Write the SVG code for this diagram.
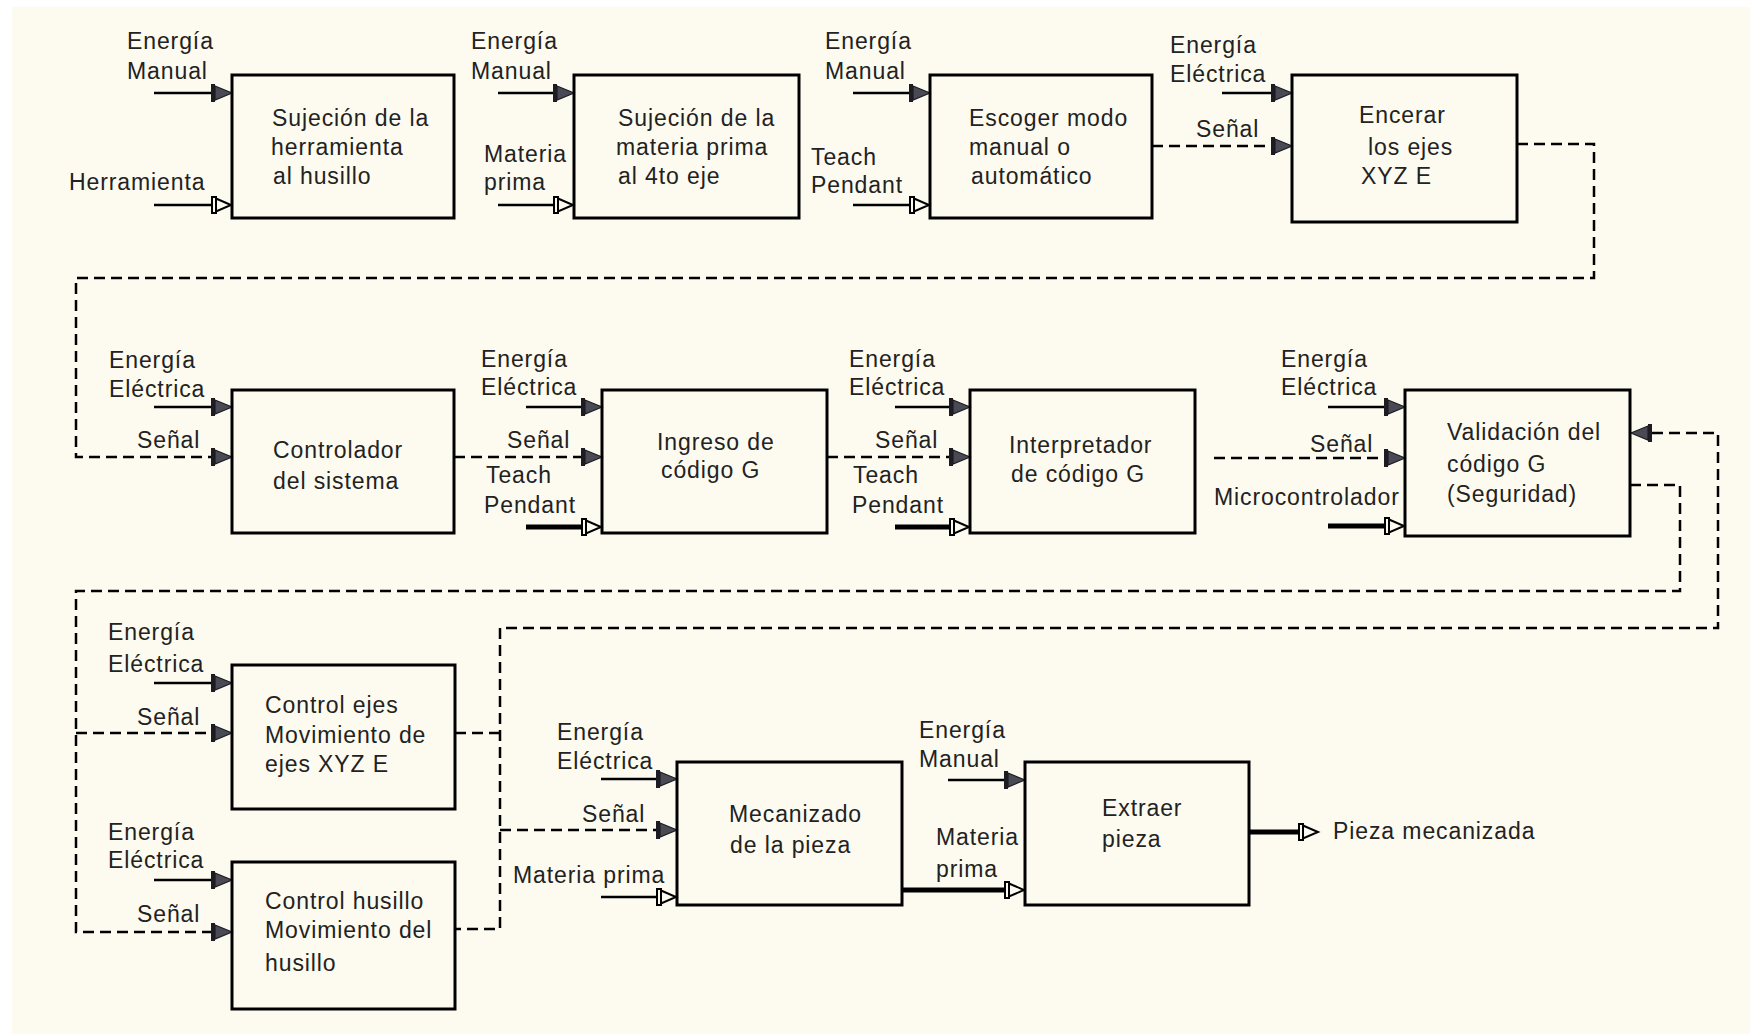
<svg xmlns="http://www.w3.org/2000/svg" xmlns:xlink="http://www.w3.org/1999/xlink" width="1755" height="1034" viewBox="0 0 1755 1034">
  <style>
    .box { fill: none; stroke: #000; stroke-width: 3; }
    .t { font-family: "Liberation Sans", Arial, sans-serif; font-size: 23px; letter-spacing: 0.9px; fill: #222; }
    .ln { fill: none; stroke: #000; stroke-width: 2.5; }
    .thk { fill: none; stroke: #000; stroke-width: 5; }
    .dsh { fill: none; stroke: #000; stroke-width: 2.5; stroke-dasharray: 11 6; }
  </style>
  <defs>
    <!-- filled input arrow, tip at origin pointing right -->
    <g id="af">
      <rect x="-21" y="-9" width="4" height="18" fill="#1c1c22"/>
      <polygon points="-17,-7 0,0 -17,7" fill="#4a4a55" stroke="#1c1c22" stroke-width="1.2"/>
    </g>
    <!-- hollow input arrow, tip at origin pointing right -->
    <g id="ah">
      <path d="M-15,-8 H-20 V8 H-15" fill="none" stroke="#000" stroke-width="2"/>
      <polygon points="-16,-6.5 -1,0 -16,6.5" fill="#fdfbf0" stroke="#000" stroke-width="2"/>
    </g>
  </defs>

  <rect x="0" y="0" width="1755" height="1034" fill="#ffffff"/>
  <rect x="12" y="7" width="1738" height="1027" fill="#fdfbf0"/>

  <!-- connectors: input stubs, signal routes and their arrowheads -->
  <g id="connectors">
    <!-- row 1 stubs -->
    <path class="ln" d="M154,93 H212 M154,205 H212"/>
    <path class="ln" d="M498,93 H554 M498,205 H554"/>
    <path class="ln" d="M853,93 H910 M853,205 H910"/>
    <path class="ln" d="M1222,93 H1272"/>
    <path class="dsh" d="M1152,146 H1272"/>
    <path class="dsh" d="M1517,144 H1594 V278 H76 V457 H212"/>
    <use xlink:href="#af" x="232" y="93"/>
    <use xlink:href="#ah" x="232" y="205"/>
    <use xlink:href="#af" x="574" y="93"/>
    <use xlink:href="#ah" x="574" y="205"/>
    <use xlink:href="#af" x="930" y="93"/>
    <use xlink:href="#ah" x="930" y="205"/>
    <use xlink:href="#af" x="1292" y="93"/>
    <use xlink:href="#af" x="1292" y="146"/>

    <!-- row 2 stubs -->
    <path class="ln" d="M154,407 H212"/>
    <path class="ln" d="M526,407 H582"/>
    <path class="thk" d="M526,527 H582"/>
    <path class="dsh" d="M454,457 H582"/>
    <path class="ln" d="M895,407 H950"/>
    <path class="thk" d="M895,527 H950"/>
    <path class="dsh" d="M827,457 H950"/>
    <path class="ln" d="M1328,407 H1385"/>
    <path class="thk" d="M1328,526 H1385"/>
    <path class="dsh" d="M1214,458 H1385"/>
    <use xlink:href="#af" x="232" y="407"/>
    <use xlink:href="#af" x="232" y="457"/>
    <use xlink:href="#af" x="602" y="407"/>
    <use xlink:href="#af" x="602" y="457"/>
    <use xlink:href="#ah" x="602" y="527"/>
    <use xlink:href="#af" x="970" y="407"/>
    <use xlink:href="#af" x="970" y="457"/>
    <use xlink:href="#ah" x="970" y="527"/>
    <use xlink:href="#af" x="1405" y="407"/>
    <use xlink:href="#af" x="1405" y="458"/>
    <use xlink:href="#ah" x="1405" y="526"/>

    <!-- validation output to the control blocks -->
    <path class="dsh" d="M1630,485 H1680 V591 H76 V932 H212"/>
    <path class="dsh" d="M76,733 H212"/>
    <!-- control blocks back to validation and on to machining -->
    <path class="dsh" d="M1652,433 H1718 V628 H500 V929 H455"/>
    <path class="dsh" d="M455,733 H500"/>
    <path class="dsh" d="M500,830 H657"/>
    <use xlink:href="#af" transform="translate(1631,433) scale(-1,1)"/>

    <!-- row 3 stubs -->
    <path class="ln" d="M154,683 H212"/>
    <path class="ln" d="M154,880 H212"/>
    <path class="ln" d="M601,779 H657"/>
    <path class="ln" d="M601,897 H657"/>
    <path class="ln" d="M948,780 H1005"/>
    <path class="thk" d="M902,890 H1005"/>
    <path class="thk" d="M1249,832 H1299"/>
    <use xlink:href="#af" x="232" y="683"/>
    <use xlink:href="#af" x="232" y="733"/>
    <use xlink:href="#af" x="232" y="880"/>
    <use xlink:href="#af" x="232" y="932"/>
    <use xlink:href="#af" x="677" y="779"/>
    <use xlink:href="#af" x="677" y="830"/>
    <use xlink:href="#ah" x="677" y="897"/>
    <use xlink:href="#af" x="1025" y="780"/>
    <use xlink:href="#ah" x="1025" y="890"/>
    <use xlink:href="#ah" x="1319" y="832"/>

    <!-- stub labels -->
    <g class="t">
      <text x="127" y="49">Energía</text><text x="127" y="79">Manual</text>
      <text x="69" y="190">Herramienta</text>
      <text x="471" y="49">Energía</text><text x="471" y="79">Manual</text>
      <text x="484" y="162">Materia</text><text x="484" y="190">prima</text>
      <text x="825" y="49">Energía</text><text x="825" y="79">Manual</text>
      <text x="811" y="165">Teach</text><text x="811" y="193">Pendant</text>
      <text x="1170" y="53">Energía</text><text x="1170" y="82">Eléctrica</text>
      <text x="1196" y="137">Señal</text>

      <text x="109" y="368">Energía</text><text x="109" y="397">Eléctrica</text>
      <text x="137" y="448">Señal</text>
      <text x="481" y="367">Energía</text><text x="481" y="395">Eléctrica</text>
      <text x="507" y="448">Señal</text>
      <text x="486" y="483">Teach</text><text x="484" y="513">Pendant</text>
      <text x="849" y="367">Energía</text><text x="849" y="395">Eléctrica</text>
      <text x="875" y="448">Señal</text>
      <text x="853" y="483">Teach</text><text x="852" y="513">Pendant</text>
      <text x="1281" y="367">Energía</text><text x="1281" y="395">Eléctrica</text>
      <text x="1310" y="452">Señal</text>
      <text x="1214" y="505">Microcontrolador</text>

      <text x="108" y="640">Energía</text><text x="108" y="672">Eléctrica</text>
      <text x="137" y="725">Señal</text>
      <text x="108" y="840">Energía</text><text x="108" y="868">Eléctrica</text>
      <text x="137" y="922">Señal</text>
      <text x="557" y="740">Energía</text><text x="557" y="769">Eléctrica</text>
      <text x="582" y="822">Señal</text>
      <text x="513" y="883">Materia prima</text>
      <text x="919" y="738">Energía</text><text x="919" y="767">Manual</text>
      <text x="936" y="845">Materia</text><text x="936" y="877">prima</text>
      <text x="1333" y="839">Pieza mecanizada</text>
    </g>
  </g>

  <!-- process blocks -->
  <g id="sujecion-herramienta">
    <rect class="box" x="232" y="75" width="222" height="143"/>
    <text class="t"><tspan x="272" y="126">Sujeción de la</tspan><tspan x="271" y="155">herramienta</tspan><tspan x="273" y="184">al husillo</tspan></text>
  </g>
  <g id="sujecion-materia">
    <rect class="box" x="574" y="75" width="225" height="143"/>
    <text class="t"><tspan x="618" y="126">Sujeción de la</tspan><tspan x="616" y="155">materia prima</tspan><tspan x="618" y="184">al 4to eje</tspan></text>
  </g>
  <g id="escoger-modo">
    <rect class="box" x="930" y="75" width="222" height="143"/>
    <text class="t"><tspan x="969" y="126">Escoger modo</tspan><tspan x="969" y="155">manual o</tspan><tspan x="971" y="184">automático</tspan></text>
  </g>
  <g id="encerar-ejes">
    <rect class="box" x="1292" y="75" width="225" height="147"/>
    <text class="t"><tspan x="1359" y="123">Encerar</tspan><tspan x="1368" y="155">los ejes</tspan><tspan x="1361" y="184">XYZ E</tspan></text>
  </g>
  <g id="controlador">
    <rect class="box" x="232" y="390" width="222" height="143"/>
    <text class="t"><tspan x="273" y="458">Controlador</tspan><tspan x="273" y="489">del sistema</tspan></text>
  </g>
  <g id="ingreso-codigo">
    <rect class="box" x="602" y="390" width="225" height="143"/>
    <text class="t"><tspan x="657" y="450">Ingreso de</tspan><tspan x="661" y="478">código G</tspan></text>
  </g>
  <g id="interpretador">
    <rect class="box" x="970" y="390" width="225" height="143"/>
    <text class="t"><tspan x="1009" y="453">Interpretador</tspan><tspan x="1011" y="482">de código G</tspan></text>
  </g>
  <g id="validacion">
    <rect class="box" x="1405" y="390" width="225" height="146"/>
    <text class="t"><tspan x="1447" y="440">Validación del</tspan><tspan x="1447" y="472">código G</tspan><tspan x="1447" y="502">(Seguridad)</tspan></text>
  </g>
  <g id="control-ejes">
    <rect class="box" x="232" y="665" width="223" height="144"/>
    <text class="t"><tspan x="265" y="713">Control ejes</tspan><tspan x="265" y="743">Movimiento de</tspan><tspan x="265" y="772">ejes XYZ E</tspan></text>
  </g>
  <g id="control-husillo">
    <rect class="box" x="232" y="862" width="223" height="147"/>
    <text class="t"><tspan x="265" y="909">Control husillo</tspan><tspan x="265" y="938">Movimiento del</tspan><tspan x="265" y="971">husillo</tspan></text>
  </g>
  <g id="mecanizado">
    <rect class="box" x="677" y="762" width="225" height="143"/>
    <text class="t"><tspan x="729" y="822">Mecanizado</tspan><tspan x="730" y="853">de la pieza</tspan></text>
  </g>
  <g id="extraer">
    <rect class="box" x="1025" y="762" width="224" height="143"/>
    <text class="t"><tspan x="1102" y="816">Extraer</tspan><tspan x="1102" y="847">pieza</tspan></text>
  </g>
</svg>
